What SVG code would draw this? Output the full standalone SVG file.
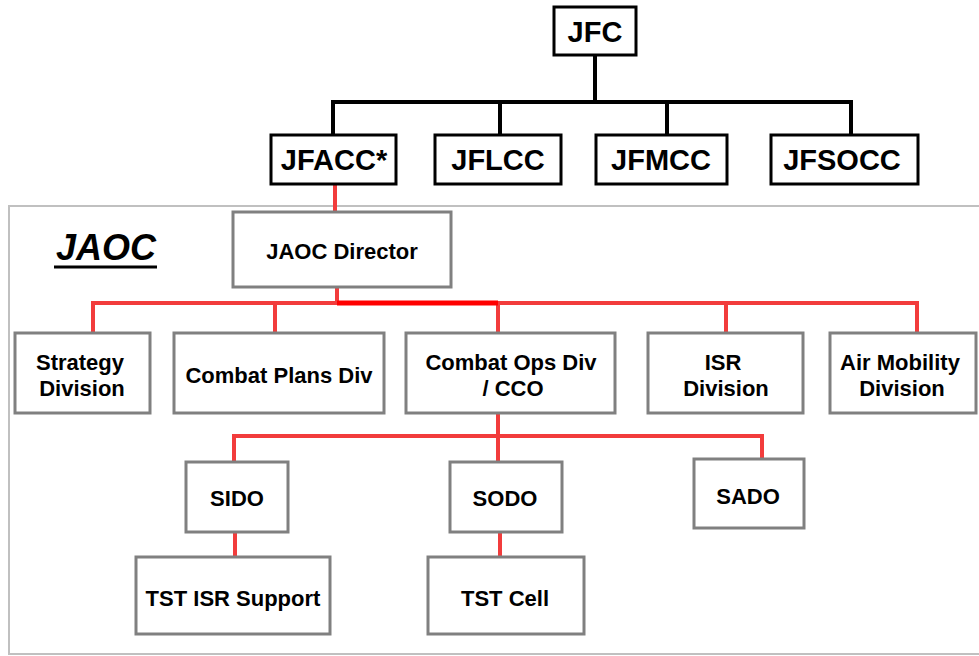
<svg xmlns="http://www.w3.org/2000/svg" width="979" height="656" viewBox="0 0 979 656">
<style>
text{font-family:"Liberation Sans",Arial,sans-serif;font-weight:bold;fill:#000;text-anchor:middle}
.top rect{fill:#fff;stroke:#000;stroke-width:3}
.top text{font-size:29px}
.j rect{fill:#fff;stroke:#808080;stroke-width:3}
.j text{font-size:22px}
.n text{font-family:"Liberation Sans Narrow","Liberation Sans",Arial,sans-serif;font-size:22px}
.blk{stroke:#000;stroke-width:4;fill:none}
.red{stroke:#f23c3c;stroke-width:4;fill:none}
.red2{stroke:#ff0000;stroke-width:5;fill:none}
</style>
<rect x="9" y="206" width="975" height="448" fill="#fff" stroke="#c0c0c0" stroke-width="2"/>
<g id="jaoc-label"><text x="106" y="260" style="font-size:36px;font-style:italic">JAOC</text><line x1="54" y1="267" x2="157" y2="267" stroke="#000" stroke-width="3"/></g>
<g id="connectors">
<path class="blk" d="M595 55V102M333 135V102H851V135M500 102V135M667 102V135"/>
<path class="red" d="M335 184V213"/>
<path class="red" d="M337 287V303M93 333V303H917V333M275 303V333M726 303V333M498 303V333"/>
<path class="red2" d="M337 303H498"/>
<path class="red" d="M498 413V462M234 462V436H762V459"/>
<path class="red" d="M235 532V557M500 532V557"/>
</g>
<g id="jfc" class="top"><rect x="554" y="7" width="82" height="48"/><text x="595" y="42">JFC</text></g>
<g id="jfacc" class="top"><rect x="271" y="135" width="125" height="49"/><text x="334" y="170">JFACC*</text></g>
<g id="jflcc" class="top"><rect x="435" y="135" width="126" height="49"/><text x="498" y="170">JFLCC</text></g>
<g id="jfmcc" class="top"><rect x="596" y="135" width="131" height="49"/><text x="661" y="170">JFMCC</text></g>
<g id="jfsocc" class="top"><rect x="771" y="135" width="147" height="49"/><text x="842" y="170">JFSOCC</text></g>
<g id="director" class="j"><rect x="233" y="212" width="218" height="75"/><text x="342" y="259">JAOC Director</text></g>
<g id="strategy" class="j"><rect x="15" y="333" width="135" height="80"/><text x="80" y="370">Strategy</text><text x="82" y="396">Division</text></g>
<g id="plans" class="j"><rect x="174" y="333" width="210" height="80"/><text x="279" y="383">Combat Plans Div</text></g>
<g id="ops" class="j"><rect x="406" y="333" width="209" height="80"/><text x="511" y="370">Combat Ops Div</text><text x="513" y="396">/ CCO</text></g>
<g id="isr" class="j"><rect x="648" y="333" width="155" height="80"/><text x="723" y="370">ISR</text><text x="726" y="396">Division</text></g>
<g id="airmob" class="j"><rect x="830" y="333" width="146" height="80"/><text x="900" y="370">Air Mobility</text><text x="902" y="396">Division</text></g>
<g id="sido" class="j n"><rect x="186" y="462" width="102" height="70"/><text x="237" y="506">SIDO</text></g>
<g id="sodo" class="j n"><rect x="450" y="462" width="112" height="70"/><text x="505" y="506">SODO</text></g>
<g id="sado" class="j n"><rect x="694" y="459" width="110" height="69"/><text x="748" y="504">SADO</text></g>
<g id="tstisr" class="j n"><rect x="136" y="557" width="194" height="77"/><text x="233" y="606">TST ISR Support</text></g>
<g id="tstcell" class="j n"><rect x="428" y="557" width="156" height="77"/><text x="505" y="606">TST Cell</text></g>
</svg>
